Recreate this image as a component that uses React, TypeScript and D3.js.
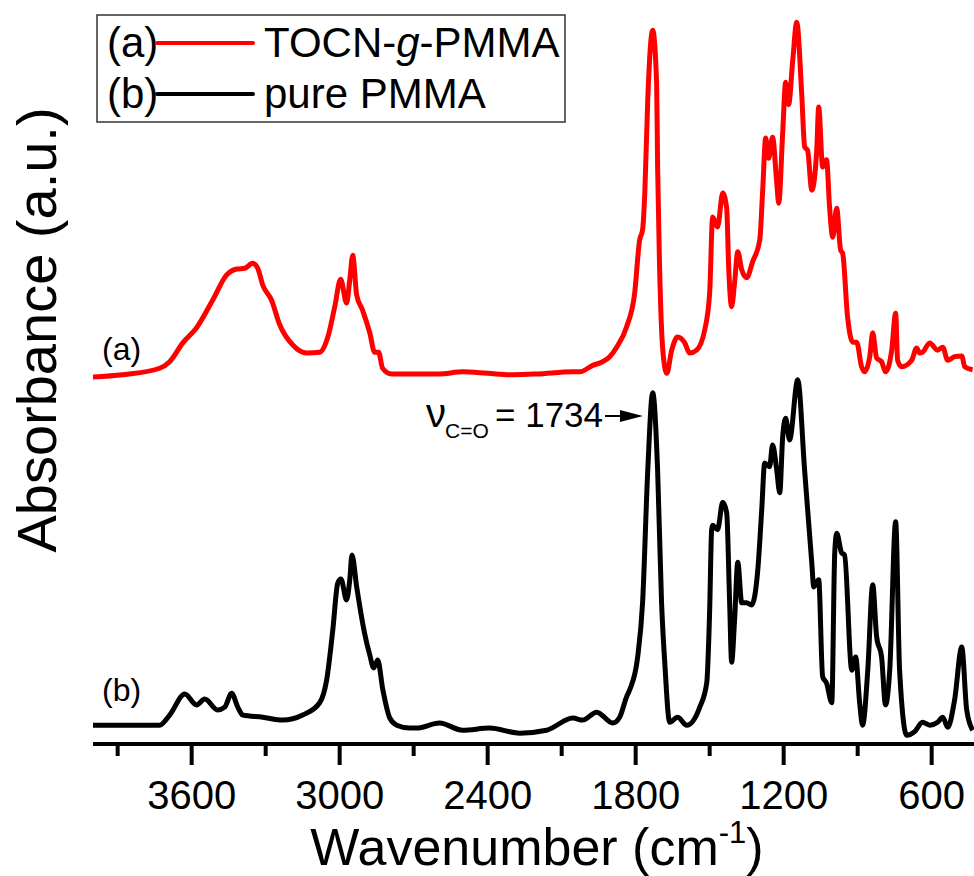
import React, { useEffect, useRef } from "react";
import * as d3 from "d3";

// (b) pure PMMA
const wavenumbersB = [
  4000, 3730, 3689, 3628, 3580, 3547, 3495, 3466, 3438, 3413, 3393, 3312, 3231, 3150, 3081, 3053,
  3028, 3008, 2995, 2972, 2959, 2950, 2931, 2899, 2878, 2862, 2846, 2825, 2797, 2769, 2716, 2688,
  2595, 2501, 2392, 2270, 2161, 2055, 2015, 1958, 1893, 1865, 1837, 1824, 1792, 1772, 1751, 1731,
  1711, 1695, 1682, 1662, 1630, 1593, 1540, 1512, 1500, 1492, 1488, 1468, 1447, 1431, 1419, 1411,
  1399, 1386, 1370, 1350, 1330, 1305, 1289, 1277, 1257, 1245, 1228, 1216, 1204, 1192, 1176, 1143,
  1115, 1086, 1078, 1058, 1042, 1026, 1005, 993, 985, 965, 953, 924, 908, 892, 880, 859, 839, 823,
  803, 787, 770, 746, 730, 701, 669, 637, 608, 576, 555, 535, 507, 478, 458, 434,
];
const absorbanceB = [
  2.6, 2.6, 4.0, 6.9, 5.4, 6.2, 4.7, 5.1, 7.0, 5.1, 4.0, 3.7, 3.3, 4.0, 5.7, 8.8,
  15.7, 22.2, 22.8, 19.9, 22.7, 26.1, 21.7, 15.3, 12.3, 10.5, 11.6, 7.5, 3.6, 2.6, 2.2, 2.2,
  2.9, 1.9, 2.2, 1.5, 1.9, 3.6, 3.3, 4.4, 2.9, 3.7, 6.5, 7.5, 12.0, 19.5, 37.8, 48.5,
  37.8, 19.5, 11.2, 3.0, 3.7, 2.6, 5.1, 8.4, 18.5, 29.6, 30.2, 29.6, 33.4, 31.9, 19.5, 11.3,
  17.1, 25.1, 19.5, 19.5, 19.2, 24.0, 32.3, 38.8, 38.3, 41.3, 37.8, 34.7, 42.4, 45.0, 42.0, 50.3,
  37.8, 25.0, 21.7, 22.7, 9.3, 8.4, 5.7, 26.4, 29.1, 26.4, 26.1, 10.2, 12.0, 5.7, 2.6, 10.2, 22.0, 14.8,
  12.0, 5.4, 10.2, 30.7, 10.2, 1.2, 1.7, 3.0, 2.6, 3.0, 3.7, 2.3, 6.1, 13.4, 4.7, 1.9,
];

// (a) TOCN-g-PMMA (plotted with a vertical offset)
const wavenumbersA = [
  4000, 3880, 3730, 3689, 3636, 3580, 3515, 3458, 3417, 3385, 3353, 3332, 3312, 3276, 3243, 3190,
  3134, 3081, 3048, 3020, 2996, 2972, 2959, 2947, 2931, 2907, 2878, 2858, 2842, 2826, 2789, 2724,
  2600, 2500, 2400, 2300, 2200, 2055, 2027, 1974, 1934, 1905, 1877, 1837, 1804, 1784, 1772, 1763,
  1751, 1731, 1715, 1711, 1703, 1690, 1674, 1654, 1630, 1601, 1581, 1553, 1520, 1500, 1488, 1468,
  1447, 1431, 1423, 1411, 1399, 1386, 1370, 1350, 1326, 1297, 1285, 1273, 1261, 1245, 1228, 1220,
  1204, 1192, 1180, 1163, 1147, 1127, 1115, 1103, 1086, 1066, 1058, 1042, 1026, 1014, 1001, 985,
  969, 961, 941, 920, 904, 884, 872, 851, 839, 823, 803, 787, 762, 746, 738, 722, 681, 661, 649,
  637, 608, 576, 555, 535, 507, 478, 466, 434,
];
const absorbanceA = [
  2.7, 3.0, 3.9, 4.8, 7.4, 9.5, 13.3, 16.8, 17.6, 17.7, 18.4, 17.7, 15.4, 13.3, 9.9, 7.1,
  6.0, 6.1, 8.2, 12.4, 16.2, 12.9, 16.1, 19.5, 14.0, 11.9, 8.8, 6.1, 6.1, 3.9, 3.1, 3.1,
  3.1, 3.4, 3.2, 3.0, 3.1, 3.4, 3.4, 4.3, 4.8, 5.5, 6.8, 9.6, 14.3, 21.6, 23.0, 28.1,
  41.0, 50.6, 43.3, 31.7, 17.9, 6.4, 3.2, 6.4, 8.2, 7.4, 6.0, 6.4, 9.2, 14.3, 24.8, 23.4,
  28.1, 26.0, 17.9, 12.4, 15.7, 20.0, 17.5, 16.4, 18.6, 21.6, 28.5, 35.7, 32.9, 35.8, 29.5, 26.7,
  36.4, 43.4, 40.3, 46.5, 51.7, 41.9, 34.5, 34.0, 28.5, 34.0, 40.0, 31.7, 32.7, 26.2, 22.0, 26.0,
  20.2, 19.8, 11.0, 7.5, 7.5, 4.1, 3.4, 5.5, 8.8, 5.3, 4.8, 3.4, 6.4, 11.5, 5.0, 4.1, 5.0, 6.7, 6.0,
  6.1, 7.4, 6.4, 6.8, 5.0, 5.5, 5.6, 4.1, 3.7,
];
const offsetA = 48;

const majorTicks = [3600, 3000, 2400, 1800, 1200, 600];
const minorTicks = [3900, 3300, 2700, 2100, 1500, 900];

const FONT = "'Liberation Sans', Arial, sans-serif";

const App = () => {
  const ref = useRef<SVGSVGElement | null>(null);
  const width = 974;
  const height = 876;

  useEffect(() => {
    const svg = d3.select(ref.current);
    svg.selectAll("*").remove();

    const x = d3.scaleLinear().domain([4000, 400]).range([93, 981]);
    const y = d3.scaleLinear().domain([0, 100]).range([744, 20]);

    const line = d3
      .line<[number, number]>()
      .x((d) => x(d[0]))
      .y((d) => y(d[1]))
      .curve(d3.curveMonotoneX);

    const seriesB: [number, number][] = wavenumbersB.map((w, i) => [w, absorbanceB[i]]);
    const seriesA: [number, number][] = wavenumbersA.map((w, i) => [w, absorbanceA[i] + offsetA]);

    svg
      .append("path")
      .attr("d", line(seriesA))
      .attr("fill", "none")
      .attr("stroke", "#ff0000")
      .attr("stroke-width", 5)
      .attr("stroke-linejoin", "round");

    svg
      .append("path")
      .attr("d", line(seriesB))
      .attr("fill", "none")
      .attr("stroke", "#000")
      .attr("stroke-width", 5)
      .attr("stroke-linejoin", "round");

    // bottom axis
    const axisY = y(0);
    svg
      .append("line")
      .attr("x1", 93)
      .attr("x2", width)
      .attr("y1", axisY)
      .attr("y2", axisY)
      .attr("stroke", "#000")
      .attr("stroke-width", 4);

    svg
      .selectAll("line.major")
      .data(majorTicks)
      .enter()
      .append("line")
      .attr("x1", (d) => x(d))
      .attr("x2", (d) => x(d))
      .attr("y1", axisY)
      .attr("y2", axisY + 21)
      .attr("stroke", "#000")
      .attr("stroke-width", 4);

    svg
      .selectAll("line.minor")
      .data(minorTicks)
      .enter()
      .append("line")
      .attr("x1", (d) => x(d))
      .attr("x2", (d) => x(d))
      .attr("y1", axisY)
      .attr("y2", axisY + 12)
      .attr("stroke", "#000")
      .attr("stroke-width", 4);

    svg
      .selectAll("text.tick")
      .data(majorTicks)
      .enter()
      .append("text")
      .attr("x", (d) => x(d))
      .attr("y", axisY + 65)
      .attr("text-anchor", "middle")
      .style("font-family", FONT)
      .style("font-size", "40px")
      .text((d) => d);

    // axis titles
    const xt = svg
      .append("text")
      .attr("x", (x.range()[0] + x.range()[1]) / 2)
      .attr("y", 865)
      .attr("text-anchor", "middle")
      .style("font-family", FONT)
      .style("font-size", "52px");
    xt.append("tspan").text("Wavenumber (cm");
    xt.append("tspan").attr("dy", -22).style("font-size", "31px").text("-1");
    xt.append("tspan").attr("dy", 22).text(")");

    svg
      .append("text")
      .attr("transform", "translate(56, 330) rotate(-90)")
      .attr("text-anchor", "middle")
      .style("font-family", FONT)
      .style("font-size", "56px")
      .text("Absorbance (a.u.)");

    // curve labels
    svg
      .append("text")
      .attr("x", 102)
      .attr("y", 360)
      .style("font-family", FONT)
      .style("font-size", "32px")
      .text("(a)");
    svg
      .append("text")
      .attr("x", 102)
      .attr("y", 701)
      .style("font-family", FONT)
      .style("font-size", "32px")
      .text("(b)");

    // C=O annotation
    const peakX = x(1734);
    const arrowY = 416;
    svg
      .append("text")
      .attr("x", 426)
      .attr("y", 427)
      .style("font-family", FONT)
      .style("font-size", "40px")
      .text("ν");
    svg
      .append("text")
      .attr("x", 445)
      .attr("y", 438)
      .style("font-family", FONT)
      .style("font-size", "21px")
      .text("C=O");
    svg
      .append("text")
      .attr("x", 495)
      .attr("y", 427)
      .style("font-family", FONT)
      .style("font-size", "35px")
      .text("= 1734");
    svg
      .append("line")
      .attr("x1", 605)
      .attr("x2", peakX - 30)
      .attr("y1", arrowY)
      .attr("y2", arrowY)
      .attr("stroke", "#000")
      .attr("stroke-width", 2);
    svg
      .append("path")
      .attr(
        "d",
        `M${peakX - 9},${arrowY} L${peakX - 32},${arrowY - 6} L${peakX - 32},${arrowY + 6} Z`
      )
      .attr("fill", "#000");

    // legend
    const lg = svg.append("g");
    lg.append("rect")
      .attr("x", 97)
      .attr("y", 15)
      .attr("width", 468)
      .attr("height", 107)
      .attr("fill", "#fff")
      .attr("stroke", "#333")
      .attr("stroke-width", 1.5);

    const rows = [
      { tag: "(a)", color: "#ff0000", lineY: 43, base: 57 },
      { tag: "(b)", color: "#000", lineY: 94, base: 108 },
    ];
    rows.forEach((r, i) => {
      lg.append("text")
        .attr("x", 107)
        .attr("y", r.base)
        .style("font-family", FONT)
        .style("font-size", "42px")
        .text(r.tag);
      lg.append("line")
        .attr("x1", 157)
        .attr("x2", 253)
        .attr("y1", r.lineY)
        .attr("y2", r.lineY)
        .attr("stroke", r.color)
        .attr("stroke-width", 4)
        .attr("stroke-linecap", "round");
      const t = lg
        .append("text")
        .attr("x", 264)
        .attr("y", r.base)
        .style("font-family", FONT)
        .style("font-size", "42px");
      if (i === 0) {
        t.append("tspan").text("TOCN-");
        t.append("tspan").style("font-style", "italic").text("g");
        t.append("tspan").text("-PMMA");
      } else {
        t.text("pure PMMA");
      }
    });
  }, []);

  return (
    <svg
      ref={ref}
      width={width}
      height={height}
      style={{ position: "absolute", left: 0, top: 0, background: "#fff" }}
    ></svg>
  );
};

export default App;
